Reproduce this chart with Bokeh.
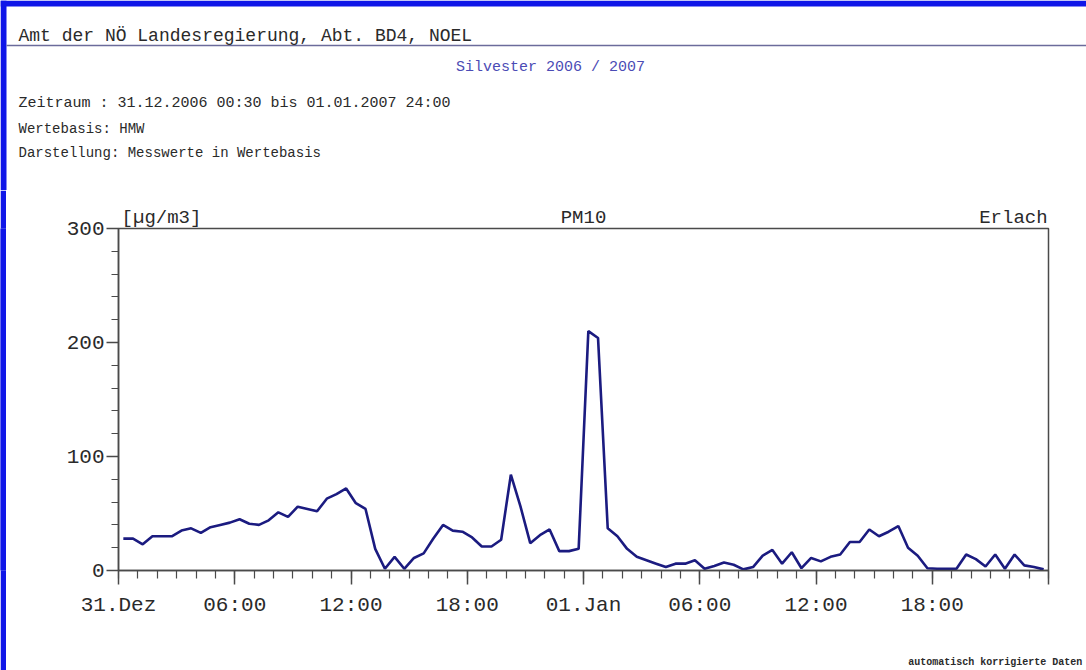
from bokeh.plotting import figure
from bokeh.layouts import row
from bokeh.models import Range1d, FixedTicker, LinearAxis
from bokeh.core.properties import value
from bokeh.embed import file_html
from bokeh.resources import INLINE

# ---------------- data ----------------
# half-hour means (HMW), 31.12.2006 00:30 .. 01.01.2007 24:00, plotted at interval midpoints
hours = [0.25 + 0.5 * i for i in range(96)]
pm10 = [
    28, 28, 23, 30, 30, 30, 35, 37, 33, 38, 40, 42,
    45, 41, 40, 44, 51, 47, 56, 54, 52, 63, 67, 72,
    59, 54, 19, 1.5, 12, 1.5, 11, 15, 28, 40, 35, 34,
    29, 21, 21, 27, 84, 56, 24, 31, 36, 17, 17, 19,
    210, 204, 37, 30, 19, 12, 9, 6, 3, 6, 6, 9,
    1.5, 4, 7, 5, 1, 3, 13, 18, 6, 16, 2, 11,
    8, 12, 14, 25, 25, 36, 30, 34, 39, 20, 13, 2,
    1.5, 1.5, 1.5, 14, 10, 3.5, 14, 1.5, 14, 4.5, 3, 1,
]
x_major_hours = [0, 6, 12, 18, 24, 30, 36, 42, 48]
x_major_labels = ["31.Dez", "06:00", "12:00", "18:00", "01.Jan", "06:00", "12:00", "18:00", ""]
x_minor_hours = list(range(0, 49))
y_major = [0, 100, 200, 300]
y_minor = list(range(0, 301, 20))

header_lines = [
    "Amt der NÖ Landesregierung, Abt. BD4, NOEL",
    "Silvester 2006 / 2007",
    "Zeitraum  : 31.12.2006 00:30 bis 01.01.2007 24:00",
    "Wertebasis: HMW",
    "Darstellung: Messwerte in Wertebasis",
]
unit_label = "[µg/m3]"
component_label = "PM10"
station_label = "Erlach"
footer_label = "automatisch korrigierte Daten"

# ---------------- styles ----------------
W = 1086
HH = 190           # header figure height
CH = 670 - HH      # chart figure height
FONT = "Liberation Mono"
TXT = "#2a2a2a"
AX = "#4a4a4a"
BLUE = "#0f16e8"
LINE = "#1b1b80"
BW = 6             # blue border width

# ---------------- header (pixel canvas) ----------------
h = figure(width=W, height=HH, output_backend="svg", toolbar_location=None,
           x_range=Range1d(0, W), y_range=Range1d(HH, 0),
           x_axis_type=None, y_axis_type=None,
           min_border=0, min_border_left=0, min_border_right=0,
           min_border_top=0, min_border_bottom=0)
h.outline_line_color = None
h.xgrid.visible = False
h.ygrid.visible = False
h.background_fill_color = "white"
h.border_fill_color = "white"

h.quad(left=[0, 0], right=[BW, W], top=[0, 0], bottom=[HH, BW],
       fill_color=BLUE, line_color=None)
h.segment(x0=[BW], y0=[45], x1=[W], y1=[45], line_color="#6b6b9b", line_width=1.5)

def htext(txt, x, y, size, align="left", color=TXT):
    h.text(x=[x], y=[y], text=[txt], text_font=value(FONT), text_font_size=value(size),
           text_color=color, text_align=align, text_baseline="middle")

htext(header_lines[0], 18, 35, "18px")
htext(header_lines[1], 550, 67, "15px", align="center", color="#4b4bb5")
htext(header_lines[2], 18, 103, "15px")
htext(header_lines[3], 18, 128, "14px")
htext(header_lines[4], 18, 152, "14px")

# ---------------- chart geometry ----------------
CW = W - BW
FL, FR = 118 - BW, 1048 - BW
FT, FB = 228 - HH, 571 - HH
XMAX, YMAX = 48, 300

# ---------------- left blue strip beside the chart ----------------
strip = figure(width=BW, height=CH, output_backend="svg", toolbar_location=None,
               x_range=Range1d(0, 1), y_range=Range1d(0, 1),
               x_axis_type=None, y_axis_type=None,
               min_border_left=0, min_border_right=0,
               min_border_top=FT, min_border_bottom=CH - FB)
strip.outline_line_color = None
strip.xgrid.visible = False
strip.ygrid.visible = False
strip.background_fill_color = BLUE
strip.border_fill_color = BLUE
strip.quad(left=[0], right=[1], top=[1], bottom=[0], fill_color=BLUE, line_color=None)

# ---------------- chart ----------------
def hx(px):
    return round((px - BW - FL) / (FR - FL) * XMAX, 2)

p = figure(width=CW, height=CH, output_backend="svg", toolbar_location=None,
           x_range=Range1d(0, XMAX), y_range=Range1d(0, YMAX),
           min_border_left=FL, min_border_right=CW - FR,
           min_border_top=FT, min_border_bottom=CH - FB)
p.xgrid.visible = False
p.ygrid.visible = False
p.background_fill_color = "white"
p.border_fill_color = "white"
p.outline_line_color = AX
p.outline_line_width = 1.5

p.line(hours, pm10, line_color=LINE, line_width=2.6)

# x axis
p.xaxis.ticker = FixedTicker(ticks=x_major_hours, minor_ticks=x_minor_hours)
p.xaxis.major_label_overrides = {hr: lab for hr, lab in zip(x_major_hours, x_major_labels)}
p.xaxis.axis_line_color = AX
p.xaxis.axis_line_width = 1.5
p.xaxis.major_tick_line_color = AX
p.xaxis.minor_tick_line_color = AX
p.xaxis.major_tick_line_width = 1.5
p.xaxis.minor_tick_line_width = 1.2
p.xaxis.major_tick_in = 0
p.xaxis.major_tick_out = 14
p.xaxis.minor_tick_in = 0
p.xaxis.minor_tick_out = 8
p.xaxis.major_label_standoff = 9
p.xaxis.major_label_text_font = FONT
p.xaxis.major_label_text_font_size = "21px"
p.xaxis.major_label_text_color = TXT

# y axis
p.yaxis.ticker = FixedTicker(ticks=y_major, minor_ticks=y_minor)
p.yaxis.axis_line_color = AX
p.yaxis.axis_line_width = 1.5
p.yaxis.major_tick_line_color = AX
p.yaxis.minor_tick_line_color = AX
p.yaxis.major_tick_line_width = 1.5
p.yaxis.minor_tick_line_width = 1.2
p.yaxis.major_tick_in = 0
p.yaxis.major_tick_out = 12
p.yaxis.minor_tick_in = 0
p.yaxis.minor_tick_out = 7
p.yaxis.major_label_standoff = 2
p.yaxis.major_label_text_font = FONT
p.yaxis.major_label_text_font_size = "21px"
p.yaxis.major_label_text_color = TXT

# caption row above the frame: unit (left), component (centre), station (right)
cap_ticks = [hx(161), 24, hx(1013)]
top_axis = LinearAxis(
    ticker=FixedTicker(ticks=cap_ticks, minor_ticks=[]),
    major_label_overrides={cap_ticks[0]: unit_label, cap_ticks[1]: component_label,
                           cap_ticks[2]: station_label},
    axis_line_color=None, major_tick_line_color=None, minor_tick_line_color=None,
    major_tick_in=0, major_tick_out=0, minor_tick_in=0, minor_tick_out=0,
    major_label_standoff=0, major_label_text_font=FONT,
    major_label_text_font_size="19px", major_label_text_color=TXT)
p.add_layout(top_axis, "above")

# footer note below the axis
foot_tick = [45.25]
foot_axis = LinearAxis(
    ticker=FixedTicker(ticks=foot_tick, minor_ticks=[]),
    major_label_overrides={foot_tick[0]: footer_label},
    axis_line_color=None, major_tick_line_color=None, minor_tick_line_color=None,
    major_tick_in=0, major_tick_out=0, minor_tick_in=0, minor_tick_out=0,
    major_label_standoff=37, major_label_text_font=FONT,
    major_label_text_font_size="10px", major_label_text_font_style="bold",
    major_label_text_color=TXT)
p.add_layout(foot_axis, "below")

chart_row = row(strip, p, spacing=0)
open("out.html", "w").write(file_html([h, chart_row], INLINE))
